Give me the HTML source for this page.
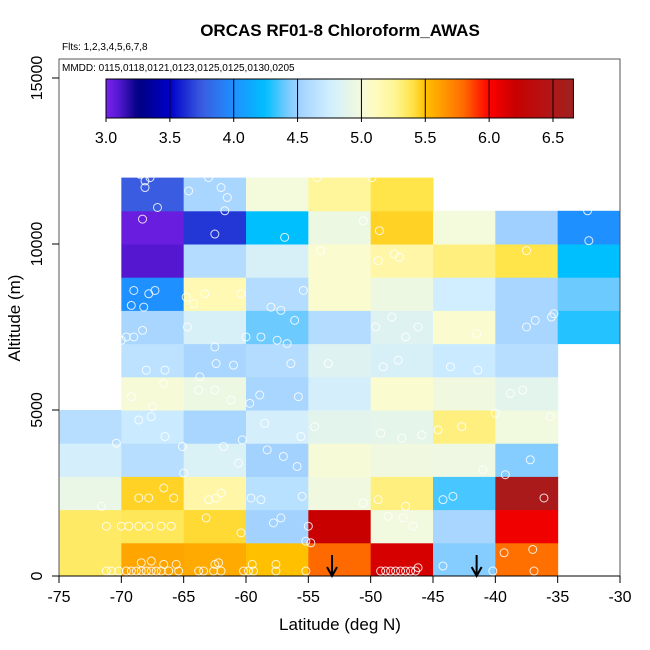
<!DOCTYPE html>
<html><head><meta charset="utf-8">
<style>
html,body{margin:0;padding:0;background:#fff;}
svg{display:block;font-family:"Liberation Sans",Arial,sans-serif;}
</style></head>
<body>
<svg id="chart" width="650" height="650" viewBox="0 0 650 650">
<text x="340" y="36" text-anchor="middle" font-size="17" font-weight="bold">ORCAS RF01-8 Chloroform_AWAS</text>
<text x="62" y="50" font-size="10">Flts: 1,2,3,4,5,6,7,8</text>
<g id="cells"></g>
<g id="pts"></g>
<g id="arrows"></g>
<rect x="59" y="59" width="561" height="517" fill="none" stroke="#555" stroke-width="1"/>
<text x="62" y="71" font-size="10">MMDD: 0115,0118,0121,0123,0125,0125,0130,0205</text>
<g id="cbar"></g>
<g id="xaxis"></g>
<g id="yaxis"></g>
<text x="340" y="630" text-anchor="middle" font-size="17">Latitude (deg N)</text>
<text x="14" y="318" text-anchor="middle" font-size="17" transform="rotate(-90 14 318)" dy="6">Altitude (m)</text>
</svg>
<script>
const latBins = [-75,-70,-65,-60,-55,-50,-45,-40,-35];
const altBins = [0,1000,2000,3000,4000,5000,6000,7000,8000,9000,10000,11000];
// values[row][col], row = altitude bin, col = latitude bin; null = no data
const values = [
 [5.35,5.6,5.58,5.5,5.8,6.15,4.45,5.78,null],
 [5.35,5.37,5.43,4.52,6.2,4.98,4.55,6.05,null],
 [4.93,5.45,5.2,4.63,4.97,5.3,4.35,6.55,null],
 [4.78,4.62,4.82,4.52,5.02,4.97,4.96,4.45,null],
 [4.62,4.72,4.55,4.78,4.88,4.9,5.3,4.98,null],
 [null,5.02,4.95,4.55,4.78,5.05,4.97,4.88,null],
 [null,4.65,4.55,4.6,4.85,4.8,4.72,4.62,null],
 [null,4.55,4.8,4.4,4.6,4.85,5.05,4.55,4.3],
 [null,4.0,5.15,4.6,5.05,4.95,4.75,4.55,4.4],
 [null,3.1,4.6,4.8,5.05,5.2,5.3,5.4,4.25],
 [null,3.05,3.65,4.25,4.95,5.45,5.0,4.5,4.0],
 [null,3.75,4.55,5.0,5.25,5.4,null,null,null]
];
const ptLat = [-71.2,-70.8,-70.2,-69.6,-69.2,-68.8,-68.4,-68,-67.6,-67.2,-66.8,-66.2,-65.4,-63.8,-63.4,-62.6,-62,-60.2,-59.8,-59.4,-57.6,-55.2,-49.2,-48.8,-48.4,-48,-47.6,-47.2,-46.8,-46.4,-46.2,-44.2,-40.2,-36.9,-68.4,-67.6,-66.6,-65.6,-62.5,-62.2,-59.5,-57.6,-54.8,-39.3,-37,
-71.2,-70,-69.4,-68.6,-67.8,-66.8,-66,-63.2,-60.4,-57.8,-57.2,-55,-55.2,-48.6,-47.4,-46.6,-71.6,-68.6,-67.8,-66.6,-65.8,-63,-62.4,-62,-59.6,-58.8,-55.5,-50.6,-49.4,-47.2,-44.2,-43.4,-36.1,
-65,-60.6,-58.3,-57,-55.9,-41,-39.2,-37.2,-70.4,-68.6,-67.6,-66.5,-65.1,-61.8,-60.3,-58.5,-55.6,-54.5,-49.2,-47.5,-45.9,-44.6,-42.7,-35.6,
-69.2,-67.5,-66.6,-63.8,-62.5,-61.2,-59.7,-58.9,-55.8,-40,-38.8,-37.8,-68,-66.5,-63.7,-62.4,-61,-56.4,-53.4,-49,-47.8,-43.6,-41.4,
-70,-69,-68.3,-69.6,-64.7,-62.5,-60,-58.8,-57.5,-56.7,-58,-57.2,-56.1,-49.6,-48.3,-47.2,-46.2,-41.5,-37.5,-35.3,-35.5,-36.8,
-69,-67.3,-67.8,-69.2,-68.2,-64.8,-64.2,-63.3,-60.4,-55.4,-54,-49.4,-48.1,-47.7,-37.5,
-68.3,-68.1,-62.5,-61.7,-56.9,-50.6,-49.3,-32.5,-32.6,-68.5,-68.1,-62,-64.6,-61.5,-54.3,-49.9,-34,-67.7,-63,-67.1];
const ptAlt = [150,150,150,150,150,150,150,150,150,150,150,150,150,150,150,150,150,150,150,150,150,150,150,150,150,150,150,150,150,150,250,300,150,150,400,450,350,350,350,400,350,350,1000,700,800,
1500,1500,1500,1500,1500,1500,1500,1750,1300,1600,1750,1500,1050,1800,1750,1500,2100,2350,2350,2650,2350,2300,2350,2500,2350,2300,2400,2200,2300,2100,2300,2400,2350,
3100,3400,3800,3600,3300,3200,3050,3500,4000,4700,4800,4200,3900,3900,4100,4600,4200,4500,4300,4150,4250,4400,4500,4800,
5400,5100,5800,5600,5600,5300,5200,5450,5400,4900,5500,5600,6200,6200,6000,6400,6350,6400,6400,6300,6500,6300,6200,
7100,7200,7400,7200,7500,6900,7200,7200,7100,7000,8100,8000,7700,7500,7800,7200,7500,7300,7500,7900,7800,7700,
8600,8600,8500,8150,8100,8400,8200,8500,8500,8600,9800,9500,9700,9600,9800,
10750,11700,10300,11000,10200,10700,10400,10100,11000,12100,11900,11700,11600,11400,12000,12000,12100,12000,12000,11100];
const arrowLat = [-53.1,-41.5];

const X0=59,X1=620,Y0=576,PX=33.2;
const xS = v => X0 + (v+75)*(X1-X0)/45;
const yS = v => Y0 - v/1000*PX;
const NS='http://www.w3.org/2000/svg';
function mk(t,a,p){const e=document.createElementNS(NS,t);for(const k in a)e.setAttribute(k,a[k]);p.appendChild(e);return e;}

const cmapV=[3.0,3.1,3.25,3.5,3.75,4.0,4.25,4.4,4.5,4.75,5.0,5.1,5.25,5.4,5.5,5.6,5.8,6.0,6.2,6.5,6.66];
const cmapC=['#7a22ee','#5518d0','#000080','#0000c8','#3a5ce0','#1e90ff','#00bfff','#6ccaff','#9fd0ff','#d0eeff','#f4fadc','#fffbc0','#fff59a','#ffe44a','#ffc000','#ffa500','#ff6a00','#ff0000','#c80000','#b01818','#a02020'];
function hex(c){return [1,3,5].map(i=>parseInt(c.substr(i,2),16));}
function col(v){
  if(v<=cmapV[0])return cmapC[0];
  for(let i=1;i<cmapV.length;i++){if(v<=cmapV[i]){const f=(v-cmapV[i-1])/(cmapV[i]-cmapV[i-1]);const a=hex(cmapC[i-1]),b=hex(cmapC[i]);return 'rgb('+a.map((x,j)=>Math.round(x+(b[j]-x)*f)).join(',')+')';}}
  return cmapC[cmapC.length-1];
}
const cells=document.getElementById('cells');
values.forEach((row,r)=>row.forEach((v,c)=>{
  if(v===null)return;
  const e=mk('rect',{x:xS(latBins[c]),y:yS(altBins[r]+1000),width:xS(latBins[c]+5)-xS(latBins[c])+0.5,height:PX+0.5,fill:col(v)},cells);
  
  
}));
const pts=document.getElementById('pts');
ptLat.forEach((la,i)=>{
  const e=mk('circle',{cx:xS(la),cy:yS(ptAlt[i]),r:4,fill:'none',stroke:'#fff','stroke-width':1,opacity:0.85},pts);
  
  
});
const ar=document.getElementById('arrows');
arrowLat.forEach(la=>{
  const x=xS(la);
  const g=mk('g',{},ar);
  
  
  mk('line',{x1:x,y1:555,x2:x,y2:575,stroke:'#000','stroke-width':2},g);
  mk('path',{d:`M${x-5} ${567} L${x} ${576} L${x+5} ${567}`,fill:'none',stroke:'#000','stroke-width':2},g);
});
// colorbar
const cb=document.getElementById('cbar');
const cbX=v=>106+(v-3.0)*(553-106)/3.5;
const defs=mk('defs',{},cb);
const lg=mk('linearGradient',{id:'cg',x1:'0',x2:'1',y1:'0',y2:'0'},defs);
const vmin=3.0,vmax=6.66;
for(let i=0;i<=80;i++){const v=vmin+(vmax-vmin)*i/80;mk('stop',{offset:(i/80),'stop-color':col(v)},lg);}
const bar=mk('rect',{x:cbX(vmin),y:79,width:cbX(vmax)-cbX(vmin),height:39,fill:'url(#cg)',stroke:'#000','stroke-width':1},cb);


const cbTicks=[3.0,3.5,4.0,4.5,5.0,5.5,6.0,6.5];
cbTicks.forEach(t=>{
  const x=cbX(t);
  mk('line',{x1:x,y1:79,x2:x,y2:122,stroke:'#000','stroke-width':1},cb);
  const tx=mk('text',{x:x,y:143,'text-anchor':'middle','font-size':16},cb);
  tx.textContent=t.toFixed(1);
  
  
});
// x axis
const xa=document.getElementById('xaxis');
const xTicks=[-75,-70,-65,-60,-55,-50,-45,-40,-35,-30];
mk('line',{x1:X0,y1:576,x2:X1,y2:576,stroke:'#000'},xa);
xTicks.forEach(t=>{
  const x=xS(t);
  mk('line',{x1:x,y1:576,x2:x,y2:583,stroke:'#000'},xa);
  const tx=mk('text',{x:x,y:602,'text-anchor':'middle','font-size':16},xa);
  tx.textContent=String(t);
  
  
});
const ya=document.getElementById('yaxis');
const yTicks=[0,5000,10000,15000];
yTicks.forEach(t=>{
  const y=yS(t);
  mk('line',{x1:52,y1:y,x2:59,y2:y,stroke:'#000'},ya);
  const tx=mk('text',{x:42,y:y,'text-anchor':'middle','font-size':16,transform:`rotate(-90 42 ${y})`},ya);
  tx.textContent=String(t);
  
  
});
</script>
</body></html>
